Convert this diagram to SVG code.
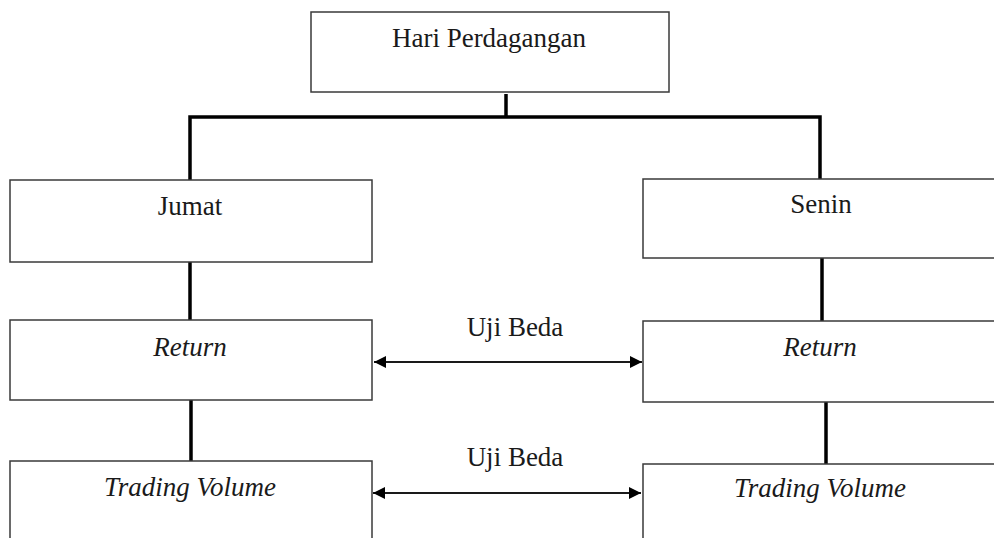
<svg xmlns="http://www.w3.org/2000/svg" width="994" height="538" viewBox="0 0 994 538">
  <style>
    .box { fill: #ffffff; stroke: #3a3a3a; stroke-width: 1.5; }
    .lbl { font-family: "Liberation Serif", "Times New Roman", serif; font-size: 27px; fill: #1a1a1a; text-anchor: middle; }
    .it { font-style: italic; }
    .tree { fill: none; stroke: #000000; stroke-width: 3.5; }
    .arr { fill: none; stroke: #1a1a1a; stroke-width: 1.8; marker-start: url(#head); marker-end: url(#head); }
  </style>
  <defs>
    <marker id="head" viewBox="0 0 12 12" refX="12" refY="6" markerWidth="12" markerHeight="12" markerUnits="userSpaceOnUse" orient="auto-start-reverse">
      <path d="M0,0 L12,6 L0,12 Z" fill="#000000"/>
    </marker>
  </defs>
  <rect width="994" height="538" fill="#ffffff"/>

  <g id="connectors">
    <path class="tree" d="M506,94 V117"/>
    <path class="tree" d="M190,180 V117 H820 V179" stroke-linejoin="miter"/>
    <path class="tree" d="M190,262 V320"/>
    <path class="tree" d="M822,258 V321"/>
    <path class="tree" d="M191,400 V461"/>
    <path class="tree" d="M826,402 V464"/>
    <path class="arr" d="M374,362 H642"/>
    <path class="arr" d="M373,493 H641"/>
  </g>

  <g id="node-hari">
    <rect class="box" x="311" y="12" width="358" height="80"/>
    <text class="lbl" x="489" y="47">Hari Perdagangan</text>
  </g>
  <g id="node-jumat">
    <rect class="box" x="10" y="180" width="362" height="82"/>
    <text class="lbl" x="190" y="215">Jumat</text>
  </g>
  <g id="node-senin">
    <rect class="box" x="643" y="179" width="360" height="79"/>
    <text class="lbl" x="821" y="213">Senin</text>
  </g>
  <g id="node-return-jumat">
    <rect class="box" x="10" y="320" width="362" height="80"/>
    <text class="lbl it" x="190" y="356">Return</text>
  </g>
  <g id="node-return-senin">
    <rect class="box" x="643" y="321" width="360" height="81"/>
    <text class="lbl it" x="820" y="356">Return</text>
  </g>
  <g id="node-volume-jumat">
    <rect class="box" x="10" y="461" width="362" height="90"/>
    <text class="lbl it" x="190" y="496">Trading Volume</text>
  </g>
  <g id="node-volume-senin">
    <rect class="box" x="643" y="464" width="360" height="90"/>
    <text class="lbl it" x="820" y="497">Trading Volume</text>
  </g>
  <g id="labels">
    <text class="lbl" x="515" y="336">Uji Beda</text>
    <text class="lbl" x="515" y="466">Uji Beda</text>
  </g>
</svg>
